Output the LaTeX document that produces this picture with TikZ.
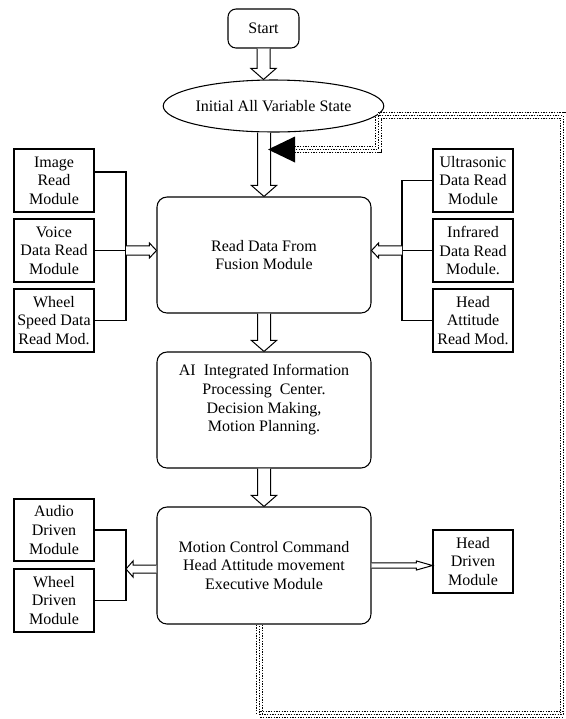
\documentclass[tikz,border=0pt]{standalone}
\usepackage{fontspec}
\setmainfont{Liberation Serif}
\usetikzlibrary{calc,shapes.geometric}
\newcommand\arrDown[5]{\draw[hollow] let \p1=#1, \p2=#2 in (\x1-#3,\y1) -- (\x1-#3,\y2+#5) -- (\x1-#4,\y2+#5) -- (\x1,\y2) -- (\x1+#4,\y2+#5) -- (\x1+#3,\y2+#5) -- (\x1+#3,\y1);}
\newcommand\arrRight[5]{\draw[hollow] let \p1=#1, \p2=#2 in (\x1,\y1+#3) -- (\x2-#5,\y1+#3) -- (\x2-#5,\y1+#4) -- (\x2,\y1) -- (\x2-#5,\y1-#4) -- (\x2-#5,\y1-#3) -- (\x1,\y1-#3);}
\newcommand\arrLeft[5]{\draw[hollow] let \p1=#1, \p2=#2 in (\x1,\y1+#3) -- (\x2+#5,\y1+#3) -- (\x2+#5,\y1+#4) -- (\x2,\y1) -- (\x2+#5,\y1-#4) -- (\x2+#5,\y1-#3) -- (\x1,\y1-#3);}
\begin{document}
\begin{tikzpicture}[x=0.75pt,y=-0.75pt,font=\fontsize{12pt}{14pt}\selectfont,
  box/.style={draw, line width=0.8pt, inner sep=0pt, align=center, minimum width=60pt, minimum height=47.25pt},
  rbox/.style={box, rounded corners=7.5pt, minimum width=160.5pt, minimum height=87pt},
  hollow/.style={draw, line width=0.75pt, fill=white},
  conn/.style={draw, line width=0.8pt},
  fb/.style={line width=0.75pt, double=white, double distance=3.75pt, dash pattern=on 1pt off 1pt},
  fbmid/.style={line width=0.75pt, dash pattern=on 1pt off 1pt, dash phase=1pt},
  txt/.style={align=center, inner sep=0pt}]
\useasboundingbox (0,0) rectangle (566,719);
% main column
\node[box, rounded corners=6pt, minimum width=53.25pt, minimum height=29.25pt] (start) at (263.5,28.5) {Start};
\node[draw, line width=0.8pt, ellipse, inner sep=0pt, minimum width=132.75pt, minimum height=39pt] (init) at (273.5,106) {Initial All Variable State};
\node[rbox] (read) at (264,255) {Read Data From\\Fusion Module};
\node[rbox] (ai) at (264,410) {};
\node[txt] (aitxt) at (264,400) {AI~ Integrated Information\\Processing~ Center.\\Decision Making,\\Motion Planning.};
\node[rbox, minimum height=87.75pt] (motion) at (264,565.5) {Motion Control Command\\Head Attitude movement\\Executive Module};
% left input modules
\node[box] (img) at (54,180.5) {Image\\Read\\Module};
\node[box] (voice) at (54,250.5) {Voice\\Data Read\\Module};
\node[box] (wsp) at (54,320.5) {Wheel\\Speed Data\\Read Mod.};
% right input modules
\node[box] (ultra) at (473,180.5) {Ultrasonic\\Data Read\\Module};
\node[box] (infra) at (473,250.5) {Infrared\\Data Read\\Module.};
\node[box] (hatt) at (473,320.5) {Head\\Attitude\\Read Mod.};
% output modules
\node[box, minimum height=46.5pt] (audio) at (54,530) {Audio\\Driven\\Module};
\node[box] (wdrv) at (54,600.5) {Wheel\\Driven\\Module};
\node[box] (hdrv) at (473,561.5) {Head\\Driven\\Module};
% bus coordinates
\coordinate (lbus) at (126,250.5);
\coordinate (rbus) at (402,250.5);
\coordinate (obus) at (126,569);
% vertical hollow arrows
\arrDown{(start.south)}{(start.south |- init.north)}{4.875pt}{9.4pt}{8.25pt}
\arrDown{(init.south -| read.north)}{(read.north)}{4.875pt}{9.4pt}{8.25pt}
\arrDown{(read.south)}{(ai.north)}{4.875pt}{9.4pt}{8.25pt}
\arrDown{(ai.south)}{(motion.north)}{4.875pt}{9.4pt}{8.25pt}
% left inputs
\draw[conn] ($(img.east)+(0,-8.5)$) -| (lbus);
\draw[conn] (wsp.east) -| (lbus);
\draw[conn] (voice.east) -- (lbus);
\arrRight{(lbus)}{(read.west)}{3.4pt}{5.6pt}{5.25pt}
% right inputs
\draw[conn] (ultra.west) -| (rbus);
\draw[conn] (hatt.west) -| (rbus);
\draw[conn] (infra.west) -- (rbus);
\arrLeft{(rbus)}{(read.east)}{3.4pt}{5.6pt}{5.25pt}
% outputs
\draw[conn] (audio.east) -| (obus);
\draw[conn] (wdrv.east) -| (obus);
\arrLeft{(motion.west |- obus)}{(obus)}{3pt}{6pt}{5.25pt}
\arrRight{(motion.east)}{(hdrv.west)}{1.9pt}{3.4pt}{12pt}
% feedback loop
\coordinate (fb1) at (259.5,714.5);
\coordinate (fb2) at (563,714.5);
\coordinate (fb3) at (563,115.5);
\coordinate (fb4) at (378,115.5);
\coordinate (fb5) at (378,149.5);
\coordinate (trib) at (295,149.5);
\coordinate (trit) at (268,149.5);
\draw[fb] (motion.south -| fb1) -- (fb1) -- (fb2) -- (fb3) -- (fb4) -- (fb5) -- (trib);
\draw[fbmid] (motion.south -| fb1) -- (fb1) -- (fb2) -- (fb3) -- (fb4) -- (fb5) -- (trib);
\fill (trit) -- ($(trib)+(0,-13)$) -- ($(trib)+(0,13)$) -- cycle;
\end{tikzpicture}
\end{document}
